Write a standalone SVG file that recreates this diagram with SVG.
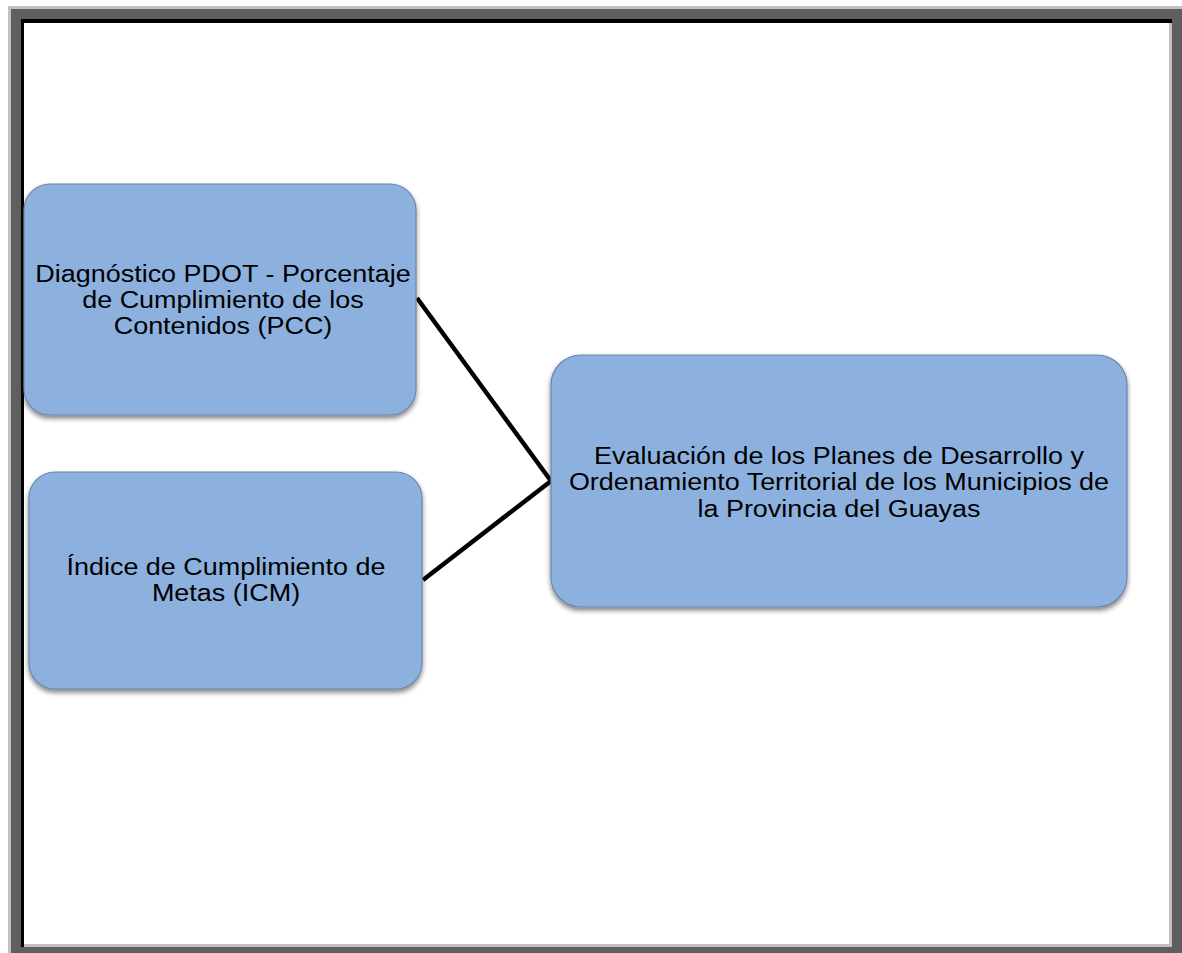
<svg xmlns="http://www.w3.org/2000/svg" width="1182" height="953" viewBox="0 0 1182 953">
<style>
.box{fill:#8db1df;stroke:#6c85a8;stroke-width:1.2}
.lbl{font-family:"Liberation Sans",Arial,sans-serif;font-size:24.5px;fill:#000;text-anchor:middle}
.conn{stroke:#000;stroke-width:4.5;fill:none}
</style>
<defs>
<filter id="sh" x="-10%" y="-10%" width="120%" height="125%">
<feGaussianBlur in="SourceAlpha" stdDeviation="2.5"/>
<feOffset dx="0" dy="3" result="b"/>
<feComponentTransfer><feFuncA type="linear" slope="0.5"/></feComponentTransfer>
<feMerge><feMergeNode/><feMergeNode in="SourceGraphic"/></feMerge>
</filter>
</defs>
<rect width="1182" height="953" fill="#ffffff"/>
<g id="frame">
<rect x="8" y="6" width="1174" height="947" fill="#c0c0c0"/>
<rect x="11" y="9" width="1171" height="944" fill="#5f5f5f"/>
<rect x="21" y="19" width="1151" height="928" fill="#000000"/>
<rect x="24" y="23" width="1148" height="924" fill="#c0c0c0"/>
<rect x="24" y="23" width="1145" height="921" fill="#ffffff"/>
</g>
<g id="connectors">
<line class="conn" x1="417" y1="298" x2="551" y2="481"/>
<line class="conn" x1="423" y1="580" x2="551" y2="481"/>
</g>
<g id="node-pcc">
<rect class="box" x="24" y="184" width="392" height="231" rx="26" filter="url(#sh)"/>
<g transform="translate(223 0) scale(1.1 1)">
<text class="lbl" x="0" y="282">Diagnóstico PDOT - Porcentaje</text>
<text class="lbl" x="0" y="308">de Cumplimiento de los</text>
<text class="lbl" x="0" y="334.5">Contenidos (PCC)</text>
</g>
</g>
<g id="node-icm">
<rect class="box" x="29" y="472" width="393" height="217" rx="26" filter="url(#sh)"/>
<g transform="translate(226 0) scale(1.1 1)">
<text class="lbl" x="0" y="575">Índice de Cumplimiento de</text>
<text class="lbl" x="0" y="601">Metas (ICM)</text>
</g>
</g>
<g id="node-eval">
<rect class="box" x="551" y="355" width="576" height="252" rx="30" filter="url(#sh)"/>
<g transform="translate(839 0) scale(1.1 1)">
<text class="lbl" x="0" y="464">Evaluación de los Planes de Desarrollo y</text>
<text class="lbl" x="0" y="490.5">Ordenamiento Territorial de los Municipios de</text>
<text class="lbl" x="0" y="517">la Provincia del Guayas</text>
</g>
</g>
</svg>
